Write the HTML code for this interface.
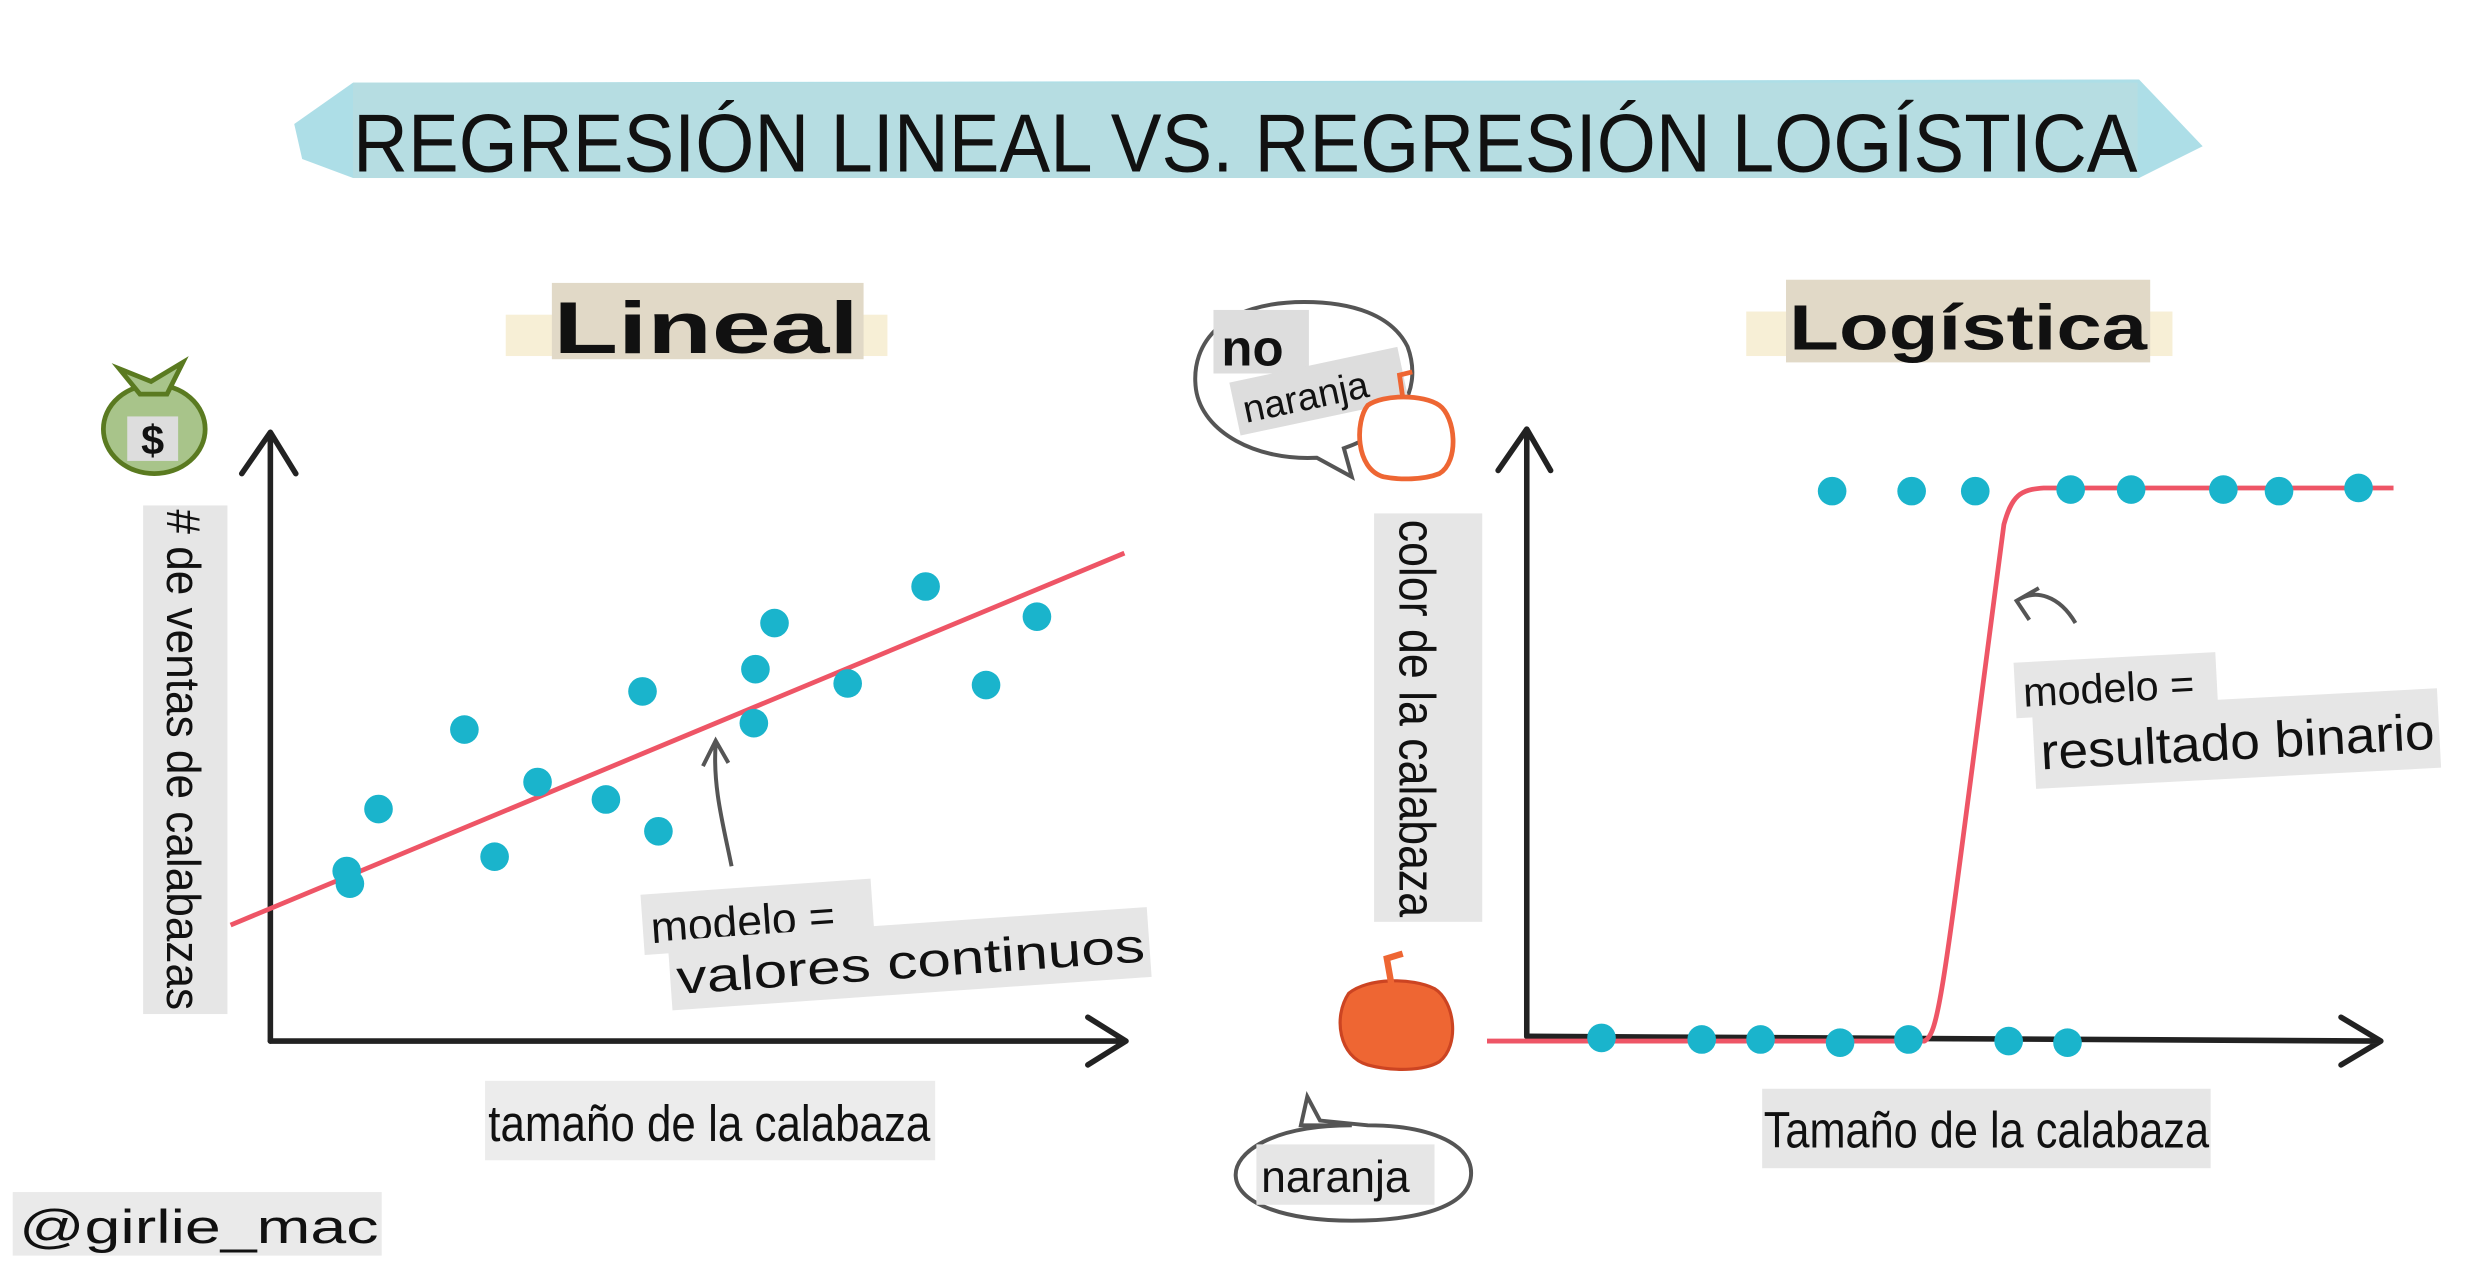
<!DOCTYPE html>
<html><head><meta charset="utf-8"><style>
html,body{margin:0;padding:0;background:#fff;width:2481px;height:1262px;overflow:hidden}
svg{display:block}
text{font-family:"Liberation Sans",sans-serif;fill:#111}
</style></head><body>
<svg width="2481" height="1262" viewBox="0 0 1560 794" preserveAspectRatio="none" xmlns="http://www.w3.org/2000/svg">
<rect width="1560" height="794" fill="#fff"/>
<!-- title -->
<polygon points="185,78 222,52 1345,50 1385,92 1345,112 222,112 190,100" fill="#9fd8e3" opacity="0.85"/>
<rect x="222" y="52" width="1122" height="60" fill="#b6dde2"/>
<text x="222" y="108" font-size="52" textLength="1122" lengthAdjust="spacingAndGlyphs">REGRESIÓN LINEAL VS. REGRESIÓN LOGÍSTICA</text>
<!-- Lineal -->
<rect x="318" y="198" width="240" height="26" fill="#f7efd6"/>
<rect x="347" y="178" width="196" height="48" fill="#e1d9c7"/>
<text x="348" y="222" font-size="46" font-weight="bold" textLength="192" lengthAdjust="spacingAndGlyphs">Lineal</text>
<!-- Logistica -->
<rect x="1098" y="196" width="268" height="28" fill="#f7efd6"/>
<rect x="1123" y="176" width="229" height="52" fill="#e1d9c7"/>
<text x="1125" y="220" font-size="40" font-weight="bold" textLength="225" lengthAdjust="spacingAndGlyphs">Logística</text>

<!-- left chart axes -->
<g stroke="#222" stroke-width="3.5" fill="none" stroke-linecap="round" stroke-linejoin="round">
<path d="M170,655 L170,272 M152,298 L170,272 L186,298"/>
<path d="M170,655 L708,655 M684,640 L708,655 L684,670"/>
<path d="M960,652 L960,270 M942,296 L960,270 L975,296"/>
<path d="M960,652 L1497,655 M1472,640 L1497,655 L1472,670"/>
</g>
<line x1="145" y1="582" x2="707" y2="348" stroke="#ee5566" stroke-width="3"/>
<g fill="#1ab4cc">
<circle cx="218" cy="548" r="9"/><circle cx="220" cy="556" r="9"/><circle cx="238" cy="509" r="9"/><circle cx="292" cy="459" r="9"/><circle cx="311" cy="539" r="9"/><circle cx="338" cy="492" r="9"/><circle cx="381" cy="503" r="9"/><circle cx="404" cy="435" r="9"/><circle cx="414" cy="523" r="9"/><circle cx="474" cy="455" r="9"/><circle cx="475" cy="421" r="9"/><circle cx="487" cy="392" r="9"/><circle cx="533" cy="430" r="9"/><circle cx="582" cy="369" r="9"/><circle cx="620" cy="431" r="9"/><circle cx="652" cy="388" r="9"/>
</g>
<!-- y label left -->
<rect x="90" y="318" width="53" height="320" fill="#e6e6e6"/>
<text transform="translate(105,478) rotate(90)" text-anchor="middle" font-size="30" textLength="315" lengthAdjust="spacingAndGlyphs"># de ventas de calabazas</text>
<rect x="305" y="680" width="283" height="50" fill="#ececec"/>
<text x="446" y="718" text-anchor="middle" font-size="32" textLength="278" lengthAdjust="spacingAndGlyphs">tamaño de la calabaza</text>
<path d="M460,545 C455,520 448,495 450,468 M442,482 L450,466 L458,480" stroke="#555" stroke-width="2.5" fill="none"/>
<g transform="rotate(-4 560 590)">
<rect x="405" y="552" width="145" height="38" fill="#e6e6e6"/>
<text x="410" y="583" font-size="28">modelo =</text>
<rect x="420" y="582" width="302" height="44" fill="#e6e6e6"/>
<text x="424" y="616" font-size="30" textLength="295" lengthAdjust="spacingAndGlyphs">valores continuos</text>
</g>
<!-- money bag -->
<ellipse cx="97" cy="270" rx="32" ry="28" fill="#a8c48a" stroke="#5a7a20" stroke-width="3"/>
<path d="M75,232 L95,240 L115,228 L105,248 L88,248 Z" fill="#a8c48a" stroke="#5a7a20" stroke-width="3"/>
<rect x="80" y="262" width="32" height="28" fill="#ddd"/>
<text x="96" y="286" text-anchor="middle" font-size="26" font-weight="bold">$</text>

<!-- right chart -->
<path d="M935,655 L1210,655 C1220,650 1222,620 1260,330 C1265,312 1270,308 1285,307 L1505,307" stroke="#ee5566" stroke-width="3" fill="none"/>
<g fill="#1ab4cc">
<circle cx="1152" cy="309" r="9"/><circle cx="1202" cy="309" r="9"/><circle cx="1242" cy="309" r="9"/><circle cx="1302" cy="308" r="9"/><circle cx="1340" cy="308" r="9"/><circle cx="1398" cy="308" r="9"/><circle cx="1433" cy="309" r="9"/><circle cx="1483" cy="307" r="9"/>
<circle cx="1007" cy="653" r="9"/><circle cx="1070" cy="654" r="9"/><circle cx="1107" cy="654" r="9"/><circle cx="1157" cy="656" r="9"/><circle cx="1200" cy="654" r="9"/><circle cx="1263" cy="655" r="9"/><circle cx="1300" cy="656" r="9"/>
</g>
<rect x="864" y="323" width="68" height="257" fill="#e6e6e6"/>
<text transform="translate(880,452) rotate(90)" text-anchor="middle" font-size="32" textLength="250" lengthAdjust="spacingAndGlyphs">color de la calabaza</text>
<rect x="1108" y="685" width="282" height="50" fill="#e6e6e6"/>
<text x="1249" y="722" text-anchor="middle" font-size="32" textLength="280" lengthAdjust="spacingAndGlyphs">Tamaño de la calabaza</text>
<path d="M1305,392 C1295,375 1280,370 1268,378 M1282,370 L1268,378 L1276,390" stroke="#555" stroke-width="2.5" fill="none"/>
<g transform="rotate(-3 1400 450)">
<rect x="1268" y="410" width="127" height="35" fill="#e6e6e6"/>
<text x="1273" y="438" font-size="26">modelo =</text>
<rect x="1278" y="440" width="255" height="50" fill="#e6e6e6"/>
<text x="1282" y="478" font-size="32" textLength="248" lengthAdjust="spacingAndGlyphs">resultado binario</text>
</g>
<!-- bubbles -->
<path d="M820,190 C770,190 748,215 752,245 C756,272 790,290 828,288 L850,300 L845,282 C880,270 895,245 885,218 C875,198 850,190 820,190 Z" fill="#fff" stroke="#555" stroke-width="2.5"/>
<rect x="763" y="195" width="60" height="40" fill="#ddd"/>
<text x="768" y="230" font-size="32" font-weight="bold">no</text>
<g transform="rotate(-12 825 245)"><rect x="775" y="230" width="108" height="34" fill="#ddd"/><text x="780" y="257" font-size="24">naranja</text></g>
<path d="M850,708 C800,708 776,725 777,740 C778,758 810,768 850,768 C895,768 925,758 925,738 C925,718 895,708 860,708 L830,705 L822,690 L818,708 Z" fill="#fff" stroke="#555" stroke-width="2.5"/>
<rect x="790" y="720" width="112" height="38" fill="#e6e6e6"/>
<text x="793" y="750" font-size="28">naranja</text>
<!-- pumpkins -->
<path d="M860,255 C852,265 852,295 870,300 C880,302 895,302 905,298 C918,290 915,262 905,255 C895,248 870,248 860,255 Z" fill="#fff" stroke="#ee6633" stroke-width="3"/>
<path d="M882,250 L880,236 L888,234" stroke="#ee6633" stroke-width="3" fill="none"/>
<path d="M848,625 C838,640 842,665 860,670 C875,674 895,674 905,668 C918,658 915,630 902,622 C888,615 860,615 848,625 Z" fill="#ee6633" stroke="#cc4422" stroke-width="2"/>
<path d="M875,620 L872,603 L882,600" stroke="#ee6633" stroke-width="4" fill="none"/>
<!-- credit -->
<rect x="8" y="750" width="232" height="40" fill="#eaeaea"/>
<text x="12" y="782" font-size="30" textLength="226" lengthAdjust="spacingAndGlyphs">@girlie_mac</text>
</svg>
</body></html>
